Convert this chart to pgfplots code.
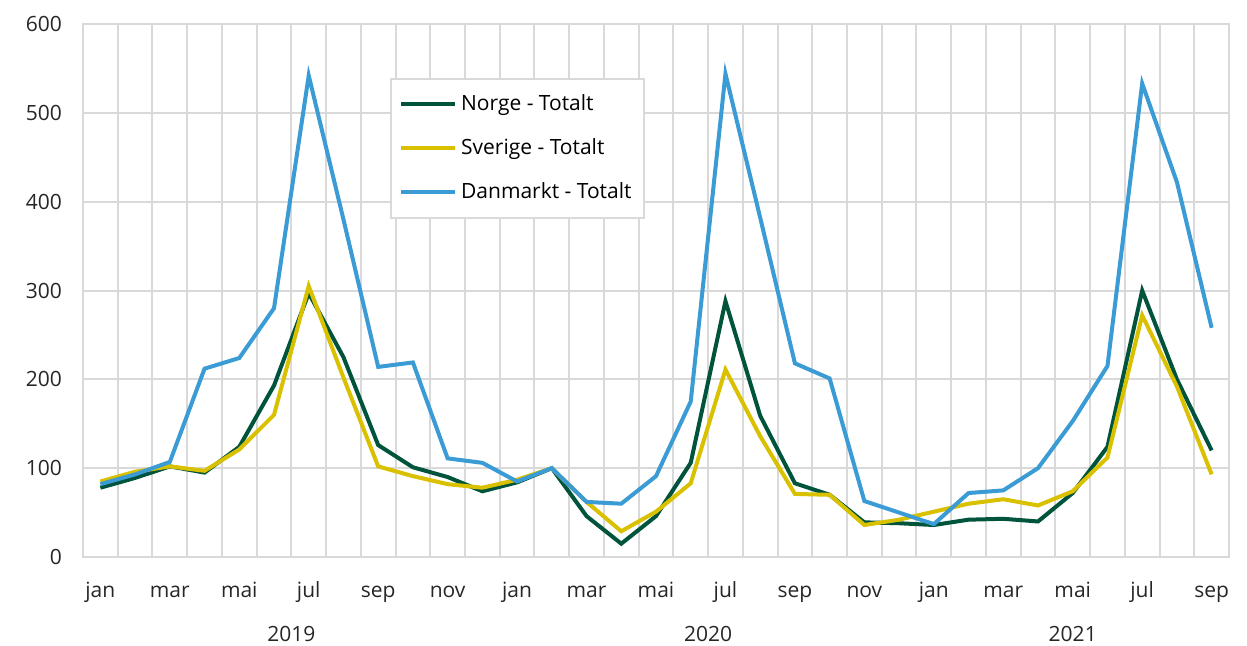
\documentclass[border=0pt]{standalone}
\usepackage{fontspec}
\setmainfont{Open Sans}
\usepackage{pgfplots}
\usepackage{pgfplotstable}
\pgfplotsset{compat=1.18}
\definecolor{norge}{HTML}{00543C}
\definecolor{sverige}{HTML}{D9C100}
\definecolor{danmark}{HTML}{3A9BD5}
\definecolor{gridc}{HTML}{D9D9D9}
\pgfplotstableread{
idx N S D
0 78 85 82
1 89 96 93
2 102 102 107
3 95 97 212
4 124 121 224
5 193 160 280
6 297 305 542
7 225 202 380
8 126 102 214
9 101 91 219
10 90 82 111
11 74 78 106
12 84 87 85
13 100 100 100
14 46 62 62
15 15 29 60
16 46 51 91
17 106 83 175
18 288 211 544
19 159 136 382
20 83 71 218
21 70 70 201
22 39 36 63
23 38 42 50
24 36 51 37
25 42 60 72
26 43 65 75
27 40 58 100
28 72 74 153
29 124 112 215
30 300 272 533
31 200 192 422
32 120 93 258
}\datatable
\begin{document}
\begin{tikzpicture}
\path[use as bounding box] (0,0) rectangle (623.5pt,323pt);
\begin{axis}[
  at={(41.5pt,44.5pt)}, anchor=south west,
  scale only axis, width=573pt, height=266.5pt,
  xmin=-0.5, xmax=32.5, ymin=0, ymax=600,
  xtick={0,2,...,32},
  xticklabels={jan,mar,mai,jul,sep,nov,jan,mar,mai,jul,sep,nov,jan,mar,mai,jul,sep},
  minor xtick={-0.5,0.5,...,32.5},
  ytick={0,100,...,600},
  xminorgrids=true, ymajorgrids=true, xmajorgrids=false,
  grid style={draw=gridc, line width=1pt},
  minor grid style={draw=gridc, line width=1pt},
  axis line style={draw=gridc, line width=1pt},
  major tick length=0pt, minor tick length=0pt,
  tick style={draw=none},
  every tick label/.append style={font=\fontsize{10.5}{12}\selectfont, text=black!85},
  yticklabel style={xshift=-7pt},
  xticklabel style={text height=1.5ex, text depth=0.35ex, yshift=-8.5pt},
  /pgf/number format/assume math mode=true,
  clip=false,
  legend style={at={(0.268,0.899)}, anchor=north west, draw=gridc, line width=1pt,
    font=\fontsize{10.5}{12}\selectfont, text=black, row sep=8.5pt, inner xsep=4pt, inner ysep=6pt},
  legend cell align=left,
  legend image code/.code={\draw[line width=2pt] (0pt,0pt) -- (27pt,0pt);},
]
\addplot[norge, line width=2pt] table[x=idx, y=N] {\datatable};
\addlegendentry{Norge - Totalt}
\addplot[sverige, line width=2pt] table[x=idx, y=S] {\datatable};
\addlegendentry{Sverige - Totalt}
\addplot[danmark, line width=2pt] table[x=idx, y=D] {\datatable};
\addlegendentry{Danmarkt - Totalt}
\node[font=\fontsize{10.5}{12}\selectfont, text=black!85] at (axis cs:5.5,0) [yshift=-38.5pt] {2019};
\node[font=\fontsize{10.5}{12}\selectfont, text=black!85] at (axis cs:17.5,0) [yshift=-38.5pt] {2020};
\node[font=\fontsize{10.5}{12}\selectfont, text=black!85] at (axis cs:28,0) [yshift=-38.5pt] {2021};
\end{axis}
\end{tikzpicture}
\end{document}
